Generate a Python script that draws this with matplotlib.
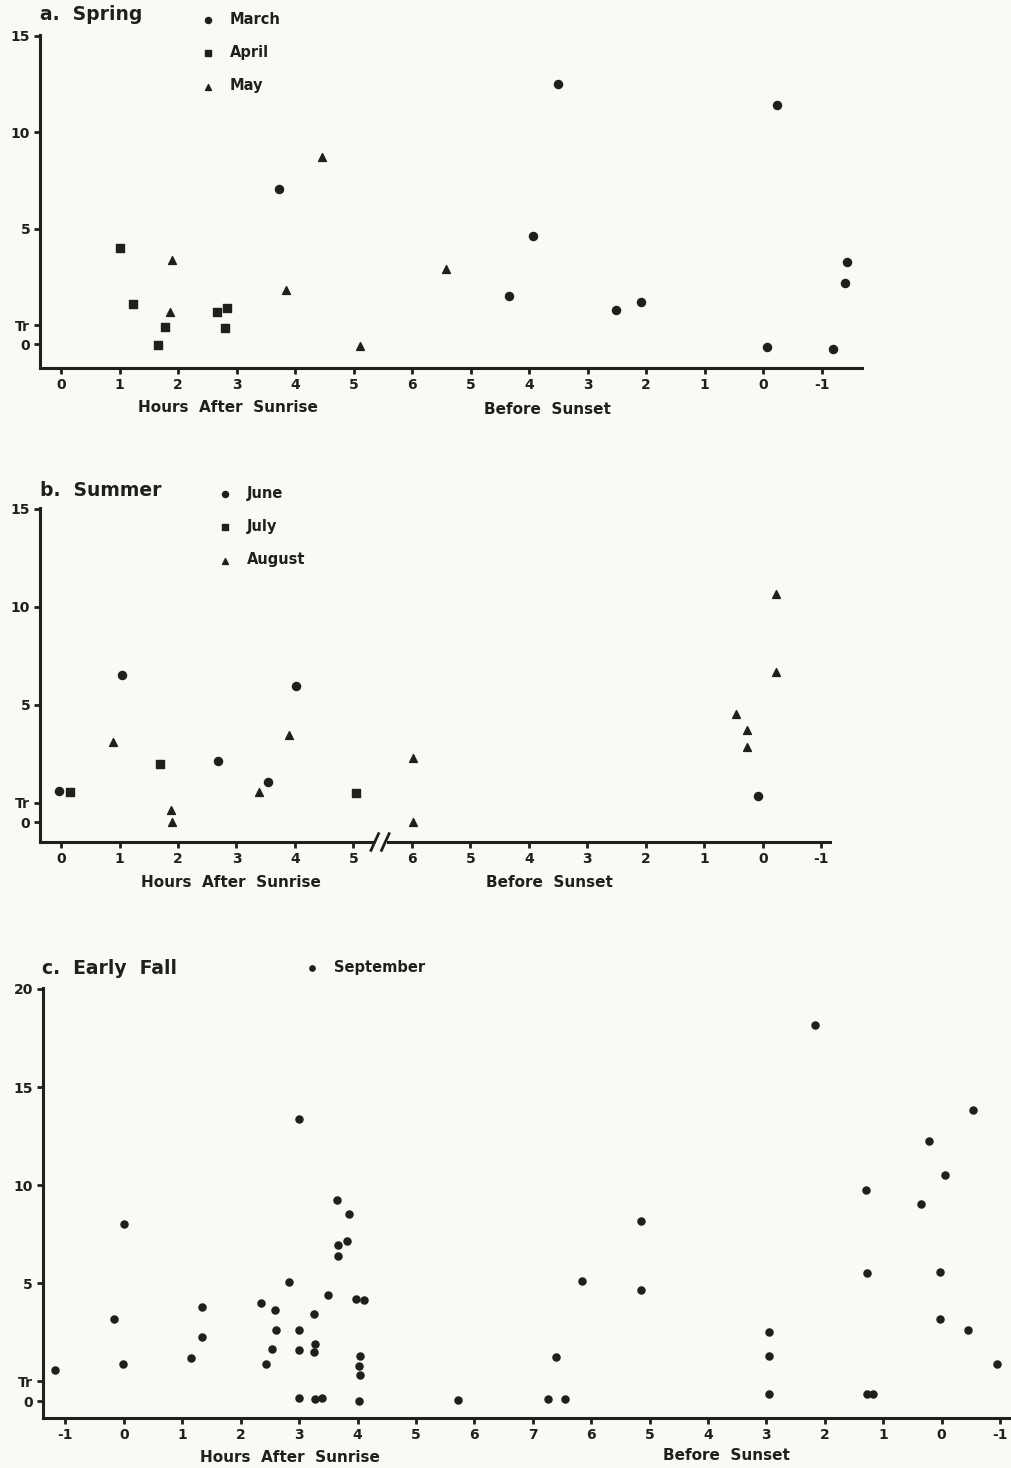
import matplotlib
matplotlib.use('Agg')
import matplotlib.pyplot as plt
from matplotlib.transforms import blended_transform_factory
from matplotlib.patches import Rectangle

# x is the position along the broken time axis (hours after sunrise, then
# hours before sunset); y uses the chart's own scale: Tr at 0, a zero at -1

# tick labels
ab_xticks = list(range(14))
ab_xlabels = ['0', '1', '2', '3', '4', '5', '6', '5', '4', '3', '2', '1', '0', '-1']
c_xticks = list(range(-1, 16))
c_xlabels = ['-1', '0', '1', '2', '3', '4', '5', '6', '7', '6', '5', '4', '3', '2', '1', '0', '-1']
ab_yticks = [-1, 0, 5, 10, 15]
c_yticks = [-1, 0, 5, 10, 15, 20]
ab_ylabels = ['0', 'Tr', '5', '10', '15']
c_ylabels = ['0', 'Tr', '5', '10', '15', '20']

# a. Spring
march_x = [3.73, 8.49, 8.06, 7.66, 9.49, 9.92, 12.24, 12.06, 13.19, 13.43, 13.40]
march_y = [7.06, 12.5, 4.62, 1.53, 0.81, 1.19, 11.4, -1.15, -1.25, 3.26, 2.18]
april_x = [1.01, 1.23, 1.77, 1.66, 2.67, 2.83, 2.81]
april_y = [4.0, 1.12, -0.09, -1.03, 0.67, 0.88, -0.15]
may_x = [1.89, 1.86, 3.84, 4.46, 5.11, 6.58]
may_y = [3.40, 0.71, 1.82, 8.71, -1.07, 2.92]

# b. Summer
june_x = [-0.03, 1.04, 2.69, 3.54, 4.02, 11.92]
june_y = [0.59, 6.53, 2.12, 1.05, 5.98, 0.32]
july_x = [0.15, 1.69, 5.05]
july_y = [0.56, 1.99, 0.49]
august_x = [0.88, 1.88, 1.89, 3.39, 3.90, 6.02, 6.02, 12.22, 12.23, 11.54, 11.73, 11.73]
august_y = [3.09, -0.36, -1.0, 0.53, 3.47, 2.26, -1.0, 10.66, 6.66, 4.54, 3.72, 2.84]

# c. Early Fall
september_x = [-1.18, 0.0, -0.17, -0.01, 1.15, 1.33, 1.33, 2.35, 2.59, 2.60,
               2.54, 2.43, 2.82, 3.0, 2.99, 3.0, 2.99, 3.25, 3.27, 3.26,
               3.27, 3.39, 3.50, 3.64, 3.85, 3.82, 3.66, 3.67, 3.97, 4.11,
               4.04, 4.02, 4.04, 4.02, 5.72, 11.84, 14.53, 13.79, 14.06, 12.70,
               13.64, 8.86, 7.85, 8.85, 12.72, 13.98, 13.98, 14.45, 11.04, 11.04,
               11.04, 14.94, 7.39, 7.26, 7.55, 12.72, 12.82]
september_y = [0.59, 8.05, 3.17, 0.88, 1.19, 3.81, 2.25, 4.02, 3.64, 2.63,
               1.64, 0.90, 5.05, 13.39, 2.64, 1.59, -0.85, 3.42, 1.90, 1.51,
               -0.87, -0.85, 4.41, 9.27, 8.54, 7.17, 6.95, 6.39, 4.19, 4.15,
               1.30, 0.79, 0.33, -0.97, -0.92, 18.17, 13.81, 12.27, 10.51, 9.74,
               9.02, 8.17, 5.13, 4.66, 5.54, 5.59, 3.17, 2.63, 2.52, 1.28,
               -0.66, 0.88, 1.24, -0.87, -0.87, -0.63, -0.63]

W, H = 1012, 1468
BG = '#fafaf4'
INK = '#1f1f1f'
plt.rcParams['font.family'] = 'DejaVu Sans'
plt.rcParams['font.weight'] = 'bold'

fig = plt.figure(figsize=(W / 100, H / 100), dpi=100, facecolor=BG)


def fx(x):
    return x / W


def fy(y):
    return 1 - y / H


def make_axes(left, right, top, bottom, xlim, ylim, xticks, xlabels, yticks, ylabels):
    ax = fig.add_axes([fx(left), fy(bottom), (right - left) / W, (bottom - top) / H])
    ax.set_facecolor('none')
    ax.set_xlim(*xlim)
    ax.set_ylim(*ylim)
    for s in ['top', 'right']:
        ax.spines[s].set_visible(False)
    for s in ['left', 'bottom']:
        ax.spines[s].set_linewidth(2.2)
        ax.spines[s].set_color(INK)
    ax.set_xticks(xticks)
    ax.set_xticklabels(xlabels)
    ax.set_yticks(yticks)
    ax.set_yticklabels(ylabels)
    ax.tick_params(direction='out', length=4, width=2, color=INK,
                   labelsize=10, labelcolor=INK, pad=3)
    return ax


def legend(ax, x, y):
    lg = ax.legend(loc='upper left', bbox_to_anchor=(fx(x), fy(y)),
                   bbox_transform=fig.transFigure, frameon=False,
                   fontsize=10.5, handlelength=0.8, handletextpad=1.1,
                   labelspacing=1.25, borderpad=0, borderaxespad=0,
                   markerscale=0.75)
    for t in lg.get_texts():
        t.set_color(INK)


# ---- a. Spring
ax1 = make_axes(40, 862, 35, 368, (-0.36, 13.69), (-2.22, 15.05),
                ab_xticks, ab_xlabels, ab_yticks, ab_ylabels)
ax1.scatter(march_x, march_y, s=34, marker='o', color=INK, label='March')
ax1.scatter(april_x, april_y, s=26, marker='s', color=INK, label='April')
ax1.scatter(may_x, may_y, s=32, marker='^', color=INK, label='May')
legend(ax1, 202, 12)
fig.text(fx(40), fy(15), 'a.  Spring', fontsize=13.5, color=INK, va='center')
fig.text(fx(228), fy(408), 'Hours  After  Sunrise', fontsize=11, color=INK,
         ha='center', va='center')
fig.text(fx(547), fy(409), 'Before  Sunset', fontsize=11, color=INK,
         ha='center', va='center')

# ---- b. Summer
ax2 = make_axes(40, 830, 508, 842, (-0.36, 13.15), (-2.01, 15.05),
                ab_xticks, ab_xlabels, ab_yticks, ab_ylabels)
ax2.scatter(june_x, june_y, s=34, marker='o', color=INK, label='June')
ax2.scatter(july_x, july_y, s=30, marker='s', color=INK, label='July')
ax2.scatter(august_x, august_y, s=32, marker='^', color=INK, label='August')
legend(ax2, 219, 486)
fig.text(fx(40), fy(490), 'b.  Summer', fontsize=13.5, color=INK, va='center')
fig.text(fx(231), fy(882), 'Hours  After  Sunrise', fontsize=11, color=INK,
         ha='center', va='center')
fig.text(fx(549), fy(882), 'Before  Sunset', fontsize=11, color=INK,
         ha='center', va='center')

# break mark on the summer time axis
tr = blended_transform_factory(ax2.transData, ax2.transAxes)
ax2.add_patch(Rectangle((5.36, -0.012), 0.22, 0.024, transform=tr,
                        facecolor=BG, edgecolor='none', zorder=4, clip_on=False))
for x0 in [5.30, 5.48]:
    ax2.plot([x0, x0 + 0.13], [-0.025, 0.025], transform=tr, color=INK,
             lw=2, clip_on=False, zorder=5)

# ---- c. Early Fall
ax3 = make_axes(42.7, 1010, 988, 1418, (-1.39, 15.17), (-1.86, 20.05),
                c_xticks, c_xlabels, c_yticks, c_ylabels)
ax3.scatter(september_x, september_y, s=26, marker='o', color=INK, label='September')
legend(ax3, 306, 960)
fig.text(fx(42), fy(968), 'c.  Early  Fall', fontsize=13.5, color=INK, va='center')
fig.text(fx(290), fy(1457), 'Hours  After  Sunrise', fontsize=11, color=INK,
         ha='center', va='center')
fig.text(fx(726), fy(1456), 'Before  Sunset', fontsize=11, color=INK,
         ha='center', va='center')

fig.savefig('out.png', dpi=100, facecolor=BG)
